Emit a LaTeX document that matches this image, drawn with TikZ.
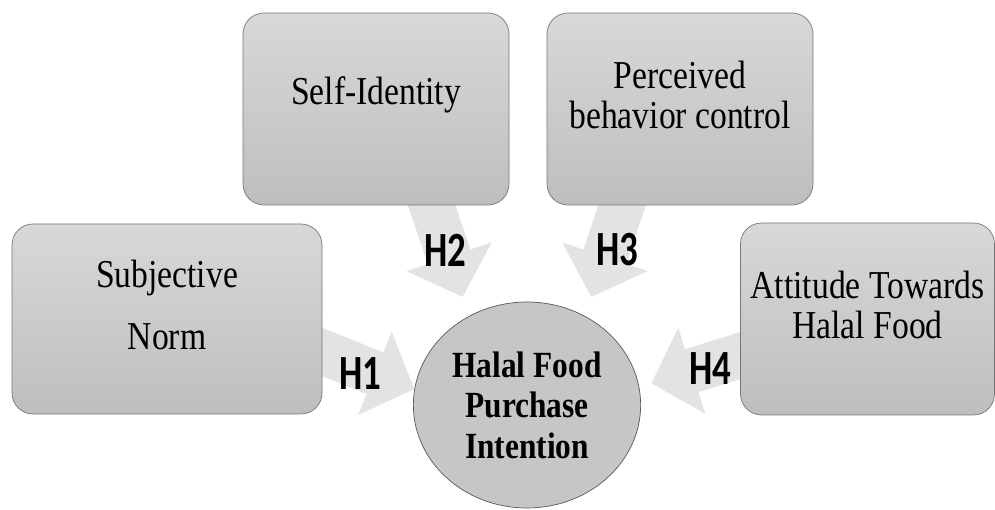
\documentclass[tikz,border=0pt]{standalone}
\usepackage{fontspec}
\setmainfont{Liberation Serif}[FakeStretch=0.85]
\newfontfamily\hfont{Carlito}[FakeStretch=0.75]
\usetikzlibrary{shapes.geometric,arrows.meta,backgrounds}
\definecolor{boxtop}{RGB}{216,216,216}
\definecolor{boxbot}{RGB}{190,190,190}
\definecolor{boxline}{RGB}{118,118,118}
\definecolor{circfill}{RGB}{198,198,198}
\definecolor{arrowgray}{RGB}{227,227,227}

\begin{document}
\begin{tikzpicture}[
  factor/.style={draw=boxline, thin, rounded corners=0.42cm, top color=boxtop, bottom color=boxbot, minimum height=3.84cm, inner sep=0pt},
  boxtext/.style={align=center, font=\fontsize{22.5}{23}\selectfont, yshift=0.28cm},
  hyp/.style={line width=0.9cm, draw=arrowgray, -{Triangle[length=0.85cm,width=1.75cm]}, shorten <=-0.4cm},
  hlab/.style={font=\hfont\bfseries\fontsize{28}{28}\selectfont}]
\useasboundingbox (0,0) rectangle (19.9,10.2);
\node[factor, minimum width=6.2cm, minimum height=3.8cm, label={[boxtext]center:{Subjective\\[12pt]Norm}}] (sn) at (3.34,3.82) {};
\node[factor, minimum width=5.32cm, label={[boxtext]center:{Self-Identity}}] (si) at (7.52,8.02) {};
\node[factor, minimum width=5.32cm, label={[boxtext]center:{Perceived\\behavior control}}] (pbc) at (13.6,8.02) {};
\node[factor, minimum width=5.08cm, label={[boxtext]center:{Attitude Towards\\Halal Food}}] (att) at (17.35,3.82) {};
\node[ellipse, draw=gray!70!black, thin, fill=circfill, minimum width=4.4cm, minimum height=4.12cm, align=center, font=\bfseries\fontsize{21}{23}\selectfont] (pi) at (10.54,2.10) {Halal Food\\Purchase\\Intention};
\begin{scope}[on background layer]
\draw[hyp] (sn.-12) -- (pi.172);
\draw[hyp, shorten >=0.4cm] (si.-60) -- (pi.123);
\draw[hyp, shorten >=0.4cm] (pbc.-121) -- (pi.57);
\draw[hyp, shorten >=0.25cm] (att.196) -- (pi.9);
\end{scope}
\node[hlab] (h1) at (7.2,2.72) {H1};
\node[hlab] (h2) at (8.9,5.2) {H2};
\node[hlab] (h3) at (12.34,5.2) {H3};
\node[hlab] (h4) at (14.2,2.82) {H4};
\end{tikzpicture}
\end{document}
